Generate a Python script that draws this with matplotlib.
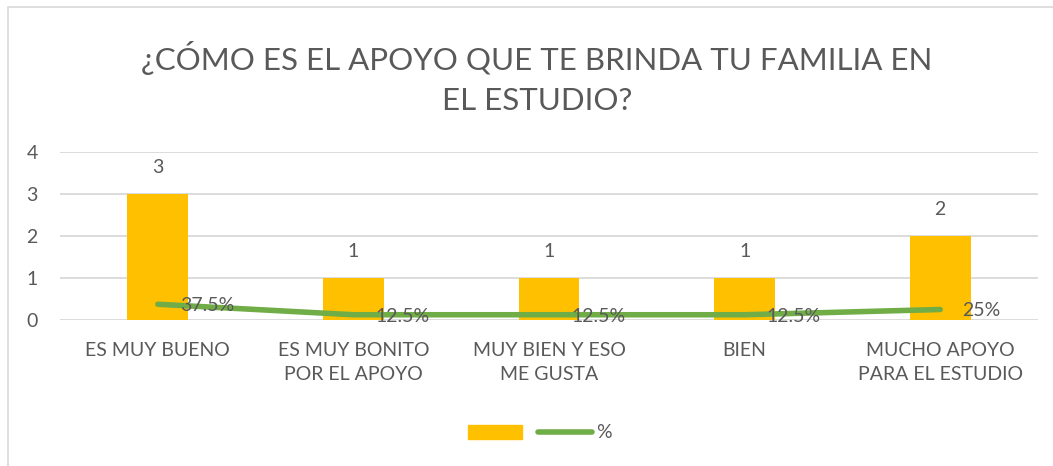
import matplotlib
matplotlib.use("Agg")
import matplotlib.pyplot as plt
from matplotlib.patches import Rectangle
from matplotlib.lines import Line2D
import numpy as np

categories = ["ES MUY BUENO", "ES MUY BONITO\nPOR EL APOYO", "MUY BIEN Y ESO\nME GUSTA",
              "BIEN", "MUCHO APOYO\nPARA EL ESTUDIO"]
counts = [3, 1, 1, 1, 2]
percent = [0.375, 0.125, 0.125, 0.125, 0.25]
percent_labels = ["37.5%", "12.5%", "12.5%", "12.5%", "25%"]
title = "¿CÓMO ES EL APOYO QUE TE BRINDA TU FAMILIA EN\nEL ESTUDIO?"

text_color = "#595959"
bar_color = "#FFC000"
line_color = "#70AD47"
plt.rcParams['font.family'] = ['Lato', 'DejaVu Sans']

W, H = 1053, 466
fig = plt.figure(figsize=(W / 100, H / 100), dpi=100)

# chart frame (clipped on right and bottom like the source)
fig.patches.append(Rectangle((8 / W, -0.1), 1.2, (H - 7) / H + 0.1, transform=fig.transFigure,
                             fill=False, edgecolor="#D9D9D9", linewidth=1.2))

ax = fig.add_axes([60 / W, (H - 320) / H, 978 / W, 168 / H])
x = np.arange(len(categories))
ax.bar(x, counts, width=0.31, color=bar_color, zorder=2)
ax.plot(x, percent, color=line_color, linewidth=4, solid_capstyle="round", zorder=3)

fs = 14
for xi, c in zip(x, counts):
    ax.annotate(str(c), (xi, c), xytext=(0, 19), textcoords="offset points",
                ha="center", va="center", fontsize=fs, color=text_color)
for xi, p, lab in zip(x, percent, percent_labels):
    ax.annotate(lab, (xi, p), xytext=(16, -1), textcoords="offset points",
                ha="left", va="center", fontsize=fs, color=text_color, zorder=4)

ax.set_xlim(-0.5, len(categories) - 0.5)
ax.set_ylim(0, 4)
ax.set_yticks([0, 1, 2, 3, 4])
ax.set_xticks(x)
ax.set_xticklabels(categories, fontsize=fs, color=text_color, linespacing=1.45, va="top")
ax.tick_params(axis="y", length=0, pad=16, labelsize=fs, labelcolor=text_color)
ax.tick_params(axis="x", length=0, pad=16)
ax.grid(axis="y", color="#D9D9D9", linewidth=1.3, zorder=0)
for s in ax.spines.values():
    s.set_visible(False)

fig.text(537 / W, 1 - 78 / H, title, ha="center", va="center", fontsize=22.5, color=text_color,
         linespacing=1.5)

handles = [Rectangle((0, 0), 1, 1, color=bar_color),
           Line2D([0], [0], color=line_color, linewidth=4, solid_capstyle="round")]
fig.legend(handles, ["", "%"], loc="center", bbox_to_anchor=(540 / W, 1 - 433 / H), ncol=2,
           frameon=False, fontsize=fs, labelcolor=text_color, handlelength=2.8,
           columnspacing=0.6, handletextpad=0.2)

fig.savefig("out.png", dpi=100)
